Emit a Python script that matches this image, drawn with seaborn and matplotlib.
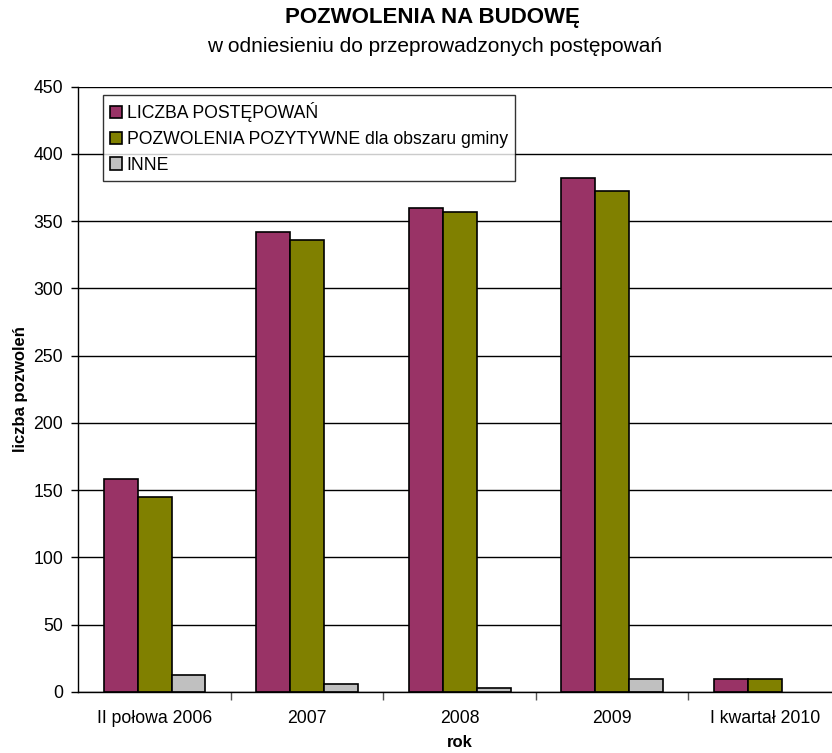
import matplotlib
matplotlib.use("Agg")
import matplotlib.pyplot as plt
import seaborn as sns
import pandas as pd
import numpy as np

categories = ["II połowa 2006", "2007", "2008", "2009", "I kwartał 2010"]
series_names = ["LICZBA POSTĘPOWAŃ", "POZWOLENIA POZYTYWNE dla obszaru gminy", "INNE"]
liczba_postepowan = [158, 342, 360, 382, 10]
pozwolenia_pozytywne = [145, 336, 357, 372, 10]
inne = [13, 6, 3, 10, 0]
colors = ["#993366", "#808000", "#C0C0C0"]
yticks = [0, 50, 100, 150, 200, 250, 300, 350, 400, 450]

rows = []
for s, vals in zip(series_names, [liczba_postepowan, pozwolenia_pozytywne, inne]):
    for c, v in zip(categories, vals):
        rows.append({"rok": c, "value": v, "series": s})
df = pd.DataFrame(rows)

sns.set_theme(style="white")
plt.rcParams["font.family"] = ["Liberation Sans", "DejaVu Sans"]
plt.rcParams["text.color"] = "black"
plt.rcParams["axes.labelcolor"] = "black"
plt.rcParams["xtick.color"] = "black"
plt.rcParams["ytick.color"] = "black"

fig = plt.figure(figsize=(8.32, 7.53), dpi=100)
ax = fig.add_axes([78.3 / 832, 61 / 753, (841 - 78.3) / 832, (692 - 86.5) / 753])

sns.barplot(data=df, x="rok", y="value", hue="series", order=categories,
            hue_order=series_names, palette=colors, edgecolor="black",
            linewidth=1.2, width=0.667, saturation=1, ax=ax, zorder=3)
for cont in ax.containers:
    for p in cont.patches:
        if p.get_height() == 0:
            p.set_visible(False)

ax.set_ylim(0, 450)
ax.set_xlim(-0.5, 4.5)
ax.set_yticks(yticks)
ax.yaxis.grid(True, color="black", linewidth=1, zorder=0)
ax.set_axisbelow(True)
for sp in ["top", "right"]:
    ax.spines[sp].set_visible(False)
for sp in ["left", "bottom"]:
    ax.spines[sp].set_color("black")
    ax.spines[sp].set_linewidth(1)
    ax.spines[sp].set_zorder(4)

ax.tick_params(axis="y", which="major", length=5, width=1, color="black",
               labelsize=12.7, direction="out", left=True, pad=6)
ax.tick_params(axis="x", which="major", length=0, labelsize=12.7, pad=13)
ax.set_xticks(np.arange(0.5, 4.5, 1.0), minor=True)
ax.tick_params(axis="x", which="minor", length=6, width=1, color="#555555",
               direction="out", bottom=True)

ax.set_xlabel("rok", fontsize=12, fontweight="bold", labelpad=6)
ax.set_ylabel("liczba pozwoleń", fontsize=12, fontweight="bold", labelpad=4)

leg = ax.legend(loc="upper left", bbox_to_anchor=((103 - 78.3) / 762.7, 1 - (95 - 86.5) / 605.5),
                fontsize=12.7, frameon=True, fancybox=False, shadow=False,
                handlelength=0.7, handleheight=0.7, handletextpad=0.25,
                labelspacing=0.5, borderpad=0.4, borderaxespad=0)
leg.get_frame().set_edgecolor("black")
leg.get_frame().set_linewidth(1)
leg.set_zorder(5)
for h in leg.legend_handles:
    h.set_edgecolor("black")
    h.set_linewidth(1.2)

fig.text(432 / 832, 1 - 18 / 753, "POZWOLENIA NA BUDOWĘ", ha="center", va="center",
         fontsize=16, fontweight="bold")
fig.text(435 / 832, 1 - 46 / 753, "w odniesieniu do przeprowadzonych postępowań",
         ha="center", va="center", fontsize=15)

fig.savefig("out.png", dpi=100)
